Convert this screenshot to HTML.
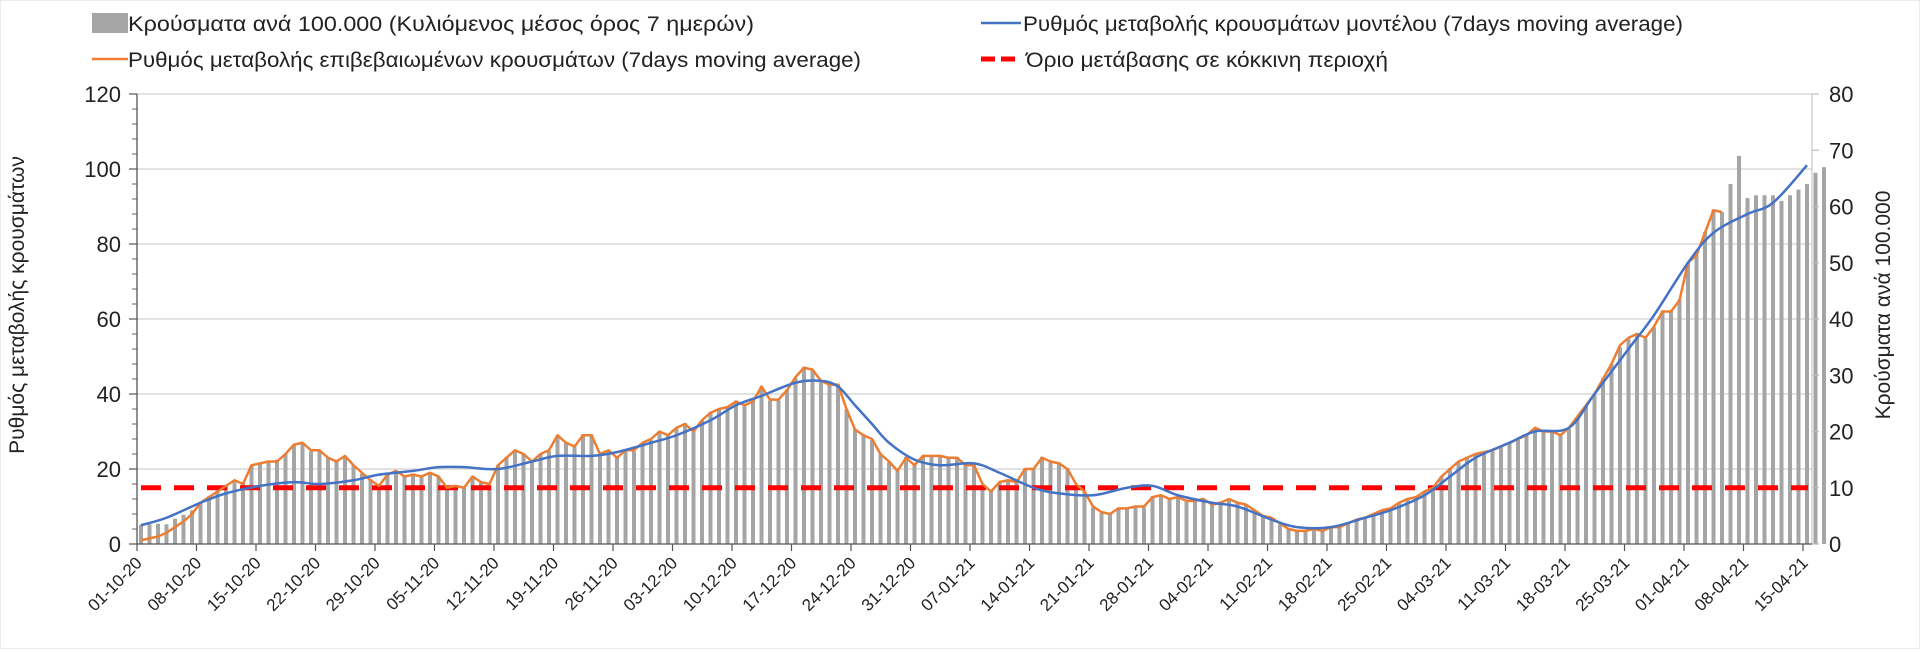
<!DOCTYPE html>
<html><head><meta charset="utf-8"><style>
body{margin:0;background:#fff;width:1920px;height:649px;overflow:hidden}
svg text{font-family:"Liberation Sans","DejaVu Sans",sans-serif;fill:#222}
</style></head><body>
<svg id="chart" width="1920" height="649" viewBox="0 0 1920 649" xmlns="http://www.w3.org/2000/svg">
<rect x="0" y="0" width="1920" height="649" fill="#fff" stroke="#d9d9d9"/>
<g id="grid"></g>
<g id="bars"></g>
<g id="lines"></g>
<g id="axes"></g>
<g id="legend">
 <g>
  <rect x="92" y="13" width="36" height="20" fill="#a5a5a5"/>
  <text x="128" y="31" font-size="21" textLength="626" lengthAdjust="spacingAndGlyphs">Κρούσματα ανά 100.000 (Κυλιόμενος μέσος όρος 7 ημερών)</text>
 </g>
 <g>
  <line x1="92" y1="59" x2="128" y2="59" stroke="#ed7d31" stroke-width="2.5"/>
  <text x="128" y="67" font-size="21" textLength="733" lengthAdjust="spacingAndGlyphs">Ρυθμός μεταβολής επιβεβαιωμένων κρουσμάτων (7days moving average)</text>
 </g>
 <g>
  <line x1="981" y1="23" x2="1021" y2="23" stroke="#4472c4" stroke-width="2.5"/>
  <text x="1023" y="31" font-size="21" textLength="660" lengthAdjust="spacingAndGlyphs">Ρυθμός μεταβολής κρουσμάτων μοντέλου (7days moving average)</text>
 </g>
 <g>
  <line x1="981" y1="59" x2="1021" y2="59" stroke="#ff0000" stroke-width="5" stroke-dasharray="14,6"/>
  <text x="1026" y="67" font-size="21" textLength="362" lengthAdjust="spacingAndGlyphs">Όριο μετάβασης σε κόκκινη περιοχή</text>
 </g>
</g>
<text transform="translate(24,305) rotate(-90)" text-anchor="middle" font-size="21">Ρυθμός μεταβολής κρουσμάτων</text>
<text transform="translate(1890,305) rotate(-90)" text-anchor="middle" font-size="21">Κρούσματα ανά 100.000</text>
</svg>
<script>
const startDate = [2020, 10, 1];
const nDays = 197;
const leftTicks = [0,20,40,60,80,100,120];
const rightTicks = [0,10,20,30,40,50,60,70,80];
const threshold = 15;
const caseBars = [3.4,3.5,3.6,3.5,4.5,5.2,6,7.5,8.5,9.5,10.5,11,11,14,14.5,14.5,15,16,17.5,18,16.5,16.5,15.5,15,15.5,14,12.5,11.5,10.5,12.5,13,12,12.5,12,12.5,12,10,10.5,10,12,11,10.5,14,15.5,16.5,16,14.5,16,16.5,19,18,17.5,19.5,19.5,16,16.5,15.5,16.5,16.5,18,18.5,20,19.5,20.5,21.5,20,22,23.5,24,24.5,25.5,24.5,25.5,28,25.5,25.5,27.5,29.5,31.5,31,29,28.5,28.5,24,20.5,19.5,18.5,16,14.5,13,15.5,14,15.5,15.5,15.5,15.5,15.5,14,14,10.5,9.5,11,11.5,11,13.5,13.5,15.5,14.5,14.5,13.5,10.5,9.5,6.5,5.5,5.5,6.5,6.5,6.5,6.5,8.5,8.5,8,8.5,7.5,7.5,8,7,7.5,8,7.5,7,6,5,4.5,3.5,2.7,2.4,2.4,2.7,2.4,3,3,3.7,4.3,4.7,5.3,6,6.3,7.3,8,8.3,9.3,10,12,13.5,14.5,15.5,16,16.5,16.5,17.5,18,18.5,19.5,20.5,20,20,19.5,20.5,22.5,24.5,26.5,29.5,32,35,36.5,37.5,36.5,38.5,41.5,41.5,43.5,50,51.5,55.5,59.5,59,64,69,61.5,62,62,62,61,62,63,64,66,67];
const confirmedRate = [1,1.5,2,3,4.5,6,8,11,12.5,14,15.5,17,16,21,21.5,22,22,24,26.5,27,25,25,23,22,23.5,21,19,17,15.5,18.5,19.5,18,18.5,18,19,18,15,15.5,15,18,16.5,16,21,23,25,24,22,24,25,29,27,26,29,29,24,25,23,25,25,27,28,30,29,31,32,30,33,35,36,36.5,38,37,38,42,38.5,38.5,41,44.5,47,46.5,43.5,42.5,42.5,36,30.5,29,28,24,22,19.5,23,21,23.5,23.5,23.5,23,23,21,21,16,14,16.5,17,16.5,20,20,23,22,21.5,20,16,14,10,8.5,8,9.5,9.5,10,10,12.5,13,12,12.5,11.5,11.5,12,10.5,11,12,11,10.5,9,7.5,7,5.5,4,3.5,3.5,4,3.5,4.5,4.5,5.5,6.5,7,8,9,9.5,11,12,12.5,14,15,18,20,22,23,24,24.5,25,26,27,28,29,31,30,30,29,31,34,37,40,44,48,53,55,56,55,58,62,62,65,75,77,83,89,88.5];
const modelDays = [0,3,7,10,14,18,21,25,28,32,35,38,42,46,49,53,56,60,63,67,70,73,77,80,82,84,86,88,91,94,98,101,105,108,112,116,119,122,126,129,133,136,140,144,147,151,154,157,161,164,168,171,175,178,182,185,189,192,196];
const modelRate = [5,7,11,13.5,15.5,16.5,16,17,18.5,19.5,20.5,20.5,20,22,23.5,23.5,24.5,27,29,33,37,39.5,43,43.5,42,37,32,27,22.5,21,21.5,19,15,13.5,13,15,15.5,13,11,10,6.5,4.5,4.5,7,9,13,18,23,27,30,31,40,52,61,75,83,88,91,101];

const NS='http://www.w3.org/2000/svg';
const X0=141, DX=8.5, Y0=544, PXL=3.75, PXR=5.625, LEFT=137, RIGHT=1812, TOP=94;
function x(i){return X0+i*DX;}
function yL(v){return Y0-v*PXL;}
function yR(v){return Y0-v*PXR;}
function mk(tag,attrs,parent){const e=document.createElementNS(NS,tag);for(const k in attrs)e.setAttribute(k,attrs[k]);parent.appendChild(e);return e;}
const grid=document.getElementById('grid'),bars=document.getElementById('bars'),lines=document.getElementById('lines'),axes=document.getElementById('axes');

leftTicks.forEach(v=>{
  if(v>0){const g=mk('line',{x1:LEFT,x2:RIGHT,y1:yL(v),y2:yL(v),stroke:'#d9d9d9','stroke-width':1.5},grid);
  
  }
  const t=mk('text',{x:LEFT-16,y:yL(v)+8,'text-anchor':'end','font-size':22},axes);
  t.textContent=v;
  
  
  mk('line',{x1:LEFT-8,x2:LEFT,y1:yL(v),y2:yL(v),stroke:'#555','stroke-width':1.2},axes);
});
for(let v=4;v<120;v+=4){if(v%20)mk('line',{x1:LEFT-5,x2:LEFT,y1:yL(v),y2:yL(v),stroke:'#666','stroke-width':1},axes);}
rightTicks.forEach(v=>{
  const t=mk('text',{x:RIGHT+17,y:yR(v)+8,'font-size':22},axes);
  t.textContent=v;
  
  
  mk('line',{x1:RIGHT,x2:RIGHT+7,y1:yR(v),y2:yR(v),stroke:'#bbb','stroke-width':1.2},axes);
});
mk('line',{x1:LEFT,x2:LEFT,y1:TOP,y2:Y0,stroke:'#555','stroke-width':1.3},axes);
mk('line',{x1:RIGHT,x2:RIGHT,y1:TOP,y2:Y0,stroke:'#ccc','stroke-width':1.3},axes);

caseBars.forEach((v,i)=>{
  const r=mk('rect',{x:x(i)-2,y:yR(v),width:4,height:Y0-yR(v),fill:'#a5a5a5'},bars);
  
  
});
mk('line',{x1:LEFT,x2:RIGHT,y1:Y0,y2:Y0,stroke:'#555','stroke-width':1.3},axes);

const th=mk('line',{x1:LEFT+4,x2:RIGHT-4,y1:yL(threshold),y2:yL(threshold),stroke:'#ff0000','stroke-width':5,'stroke-dasharray':'20,13'},lines);



const op=mk('polyline',{points:confirmedRate.map((v,i)=>x(i)+','+yL(v)).join(' '),fill:'none',stroke:'#ed7d31','stroke-width':2.5,'stroke-linejoin':'round'},lines);



const pts=modelDays.map((d,i)=>[x(d),yL(modelRate[i])]);
let d='M'+pts[0][0]+','+pts[0][1];
for(let i=0;i<pts.length-1;i++){
  const p0=pts[Math.max(0,i-1)],p1=pts[i],p2=pts[i+1],p3=pts[Math.min(pts.length-1,i+2)];
  const c1=[p1[0]+(p2[0]-p0[0])/6,p1[1]+(p2[1]-p0[1])/6],c2=[p2[0]-(p3[0]-p1[0])/6,p2[1]-(p3[1]-p1[1])/6];
  d+=' C'+c1.join(',')+' '+c2.join(',')+' '+p2.join(',');
}
const bp=mk('path',{d:d,fill:'none',stroke:'#4472c4','stroke-width':2.5},lines);



for(let i=0;i<nDays;i+=7){
  const dt=new Date(startDate[0],startDate[1]-1,startDate[2]+i);
  const lab=String(dt.getDate()).padStart(2,'0')+'-'+String(dt.getMonth()+1).padStart(2,'0')+'-'+String(dt.getFullYear()).slice(2);
  const tx=x(i)-4;
  mk('line',{x1:tx,x2:tx,y1:Y0,y2:Y0+7,stroke:'#555','stroke-width':1.2},axes);
  const t=mk('text',{transform:'translate('+(tx+6)+','+(Y0+20)+') rotate(-45)','text-anchor':'end','font-size':17},axes);
  t.textContent=lab;
  
  
}
</script>
</body></html>
